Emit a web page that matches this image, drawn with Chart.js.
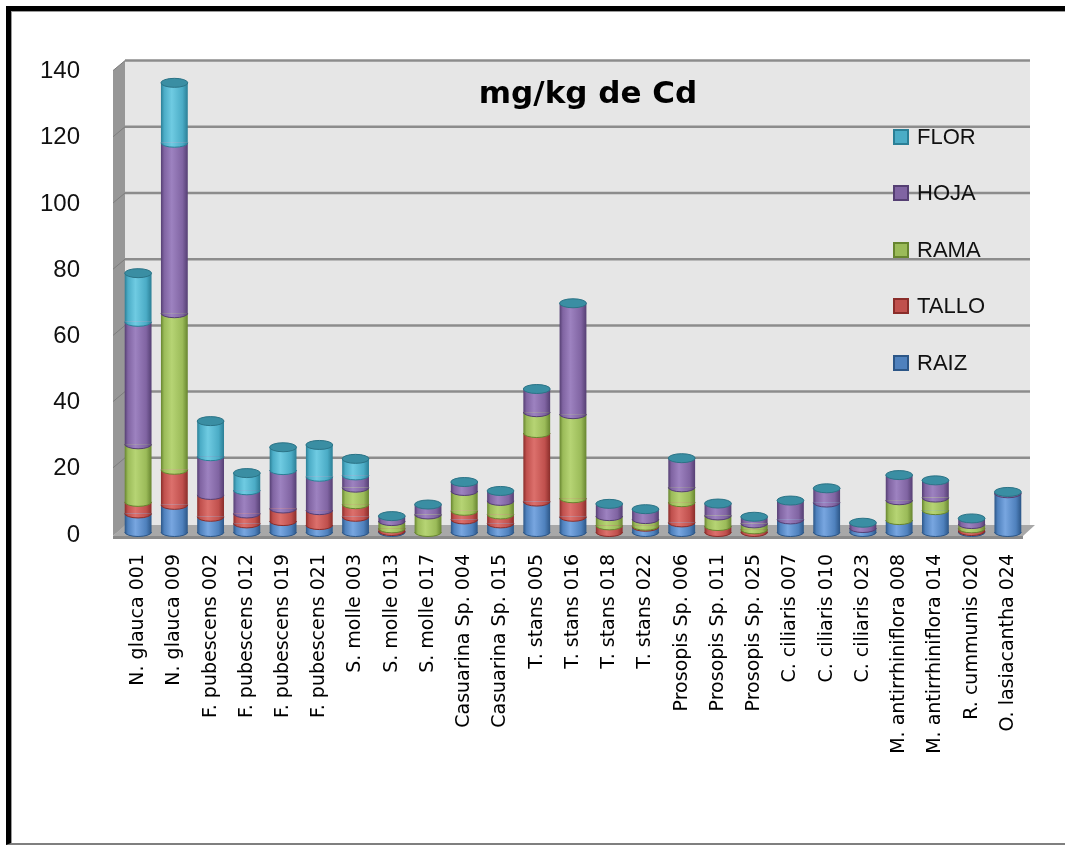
<!DOCTYPE html>
<html>
<head>
<meta charset="utf-8">
<script src="https://cdn.jsdelivr.net/npm/chart.js@4.4.1/dist/chart.umd.min.js"></script>
<style>
    html, body { margin: 0; padding: 0; background: #fff; }
    #wrap { position: relative; width: 1065px; height: 846px; overflow: hidden; }
    #frame { position: absolute; left: 6px; top: 6px; right: -10px; bottom: 1px;
        border-left: 5px solid #000; border-top: 5px solid #000; border-bottom: 2px solid #7f7f7f;
        box-shadow: inset 1px 1px 0 #9a9a9a; pointer-events: none; }
    canvas { position: absolute; left: 0; top: 0; }
</style>
</head>
<body>
<div id="wrap">
    <canvas id="cdChart" width="1065" height="846"></canvas>
    <div id="frame"></div>
</div>
<script>
const categories = [
    'N. glauca 001', 'N. glauca 009', 'F. pubescens 002', 'F. pubescens 012', 'F. pubescens 019',
    'F. pubescens 021', 'S. molle 003', 'S. molle 013', 'S. molle 017', 'Casuarina Sp. 004',
    'Casuarina Sp. 015', 'T. stans 005', 'T. stans 016', 'T. stans 018', 'T. stans 022',
    'Prosopis Sp. 006', 'Prosopis Sp. 011', 'Prosopis Sp. 025', 'C. ciliaris 007', 'C. ciliaris 010',
    'C. ciliaris 023', 'M. antirrhiniflora 008', 'M. antirrhiniflora 014', 'R. cummunis 020', 'O. lasiacantha 024'
];
const raiz  = [5.6, 8.2, 4.6, 2.6, 3.3, 2.1, 4.6, 0.3, 0, 3.8, 2.6, 9.2, 4.6, 0, 1.6, 2.9, 0, 0, 3.8, 8.9, 1.2, 3.6, 6.6, 0.3, 11.7];
const tallo = [3.5, 10.6, 6.6, 3.0, 3.8, 4.5, 3.8, 0.8, 0, 2.6, 2.7, 20.7, 5.6, 2.0, 0.3, 6.1, 1.8, 0.8, 0, 0, 0, 0, 0, 0.8, 0];
const rama  = [17.4, 47.3, 0, 0, 0, 0, 5.0, 2.2, 5.3, 6.0, 4.1, 6.3, 25.4, 2.8, 2.0, 4.5, 3.2, 1.8, 0, 0, 0, 6.0, 3.8, 1.3, 0];
const hoja  = [37.0, 51.5, 11.7, 7.0, 11.6, 10.1, 3.7, 1.5, 3.0, 2.7, 3.0, 7.0, 33.5, 3.7, 3.0, 8.8, 3.6, 2.0, 5.7, 4.3, 1.6, 7.6, 5.2, 1.7, 0.4];
const flor  = [14.7, 18.1, 10.6, 5.2, 6.9, 9.6, 5.0, 0, 0, 0, 0, 0, 0, 0, 0, 0, 0, 0, 0, 0, 0, 0, 0, 0, 0];
const seriesNames = ['RAIZ', 'TALLO', 'RAMA', 'HOJA', 'FLOR'];
const yTickValues = [0, 20, 40, 60, 80, 100, 120, 140];
const chartTitle = 'mg/kg de Cd';

// base / light / dark shades for the cylinder look
const palette = [
    { base: '#4F81BD', light: '#78a6e0', dark: '#2c5687' },
    { base: '#C0504D', light: '#dc706c', dark: '#8a2d2a' },
    { base: '#9BBB59', light: '#b6d474', dark: '#67852f' },
    { base: '#8064A2', light: '#9d82c0', dark: '#553f73' },
    { base: '#4BACC6', light: '#6fcbe2', dark: '#2b7f96' },
];
const BAR_PCT = 0.74;

function barWidth(chart) {
    const xs = chart.scales.x;
    return xs.width / categories.length * BAR_PCT;
}

function cylinderFill(c, pal) {
    const chart = c.chart;
    const xs = chart.scales.x;
    if (!xs || !chart.chartArea || c.dataIndex === undefined) return pal.base;
    const cx = xs.getPixelForValue(c.dataIndex);
    const w = barWidth(chart);
    const g = chart.ctx.createLinearGradient(cx - w / 2, 0, cx + w / 2, 0);
    g.addColorStop(0, pal.dark);
    g.addColorStop(0.12, pal.base);
    g.addColorStop(0.4, pal.light);
    g.addColorStop(0.8, pal.base);
    g.addColorStop(1, pal.dark);
    return g;
}

const wallPlugin = {
    id: 'wall3d',
    beforeDraw(chart) {
        const { ctx, chartArea: a, scales: { y } } = chart;
        const L = a.left, R = a.right, B = a.bottom;
        const wallTop = y.getPixelForValue(140) - 8;
        ctx.save();
        // back wall
        ctx.fillStyle = '#e6e6e6';
        ctx.fillRect(L + 5, wallTop, R + 4 - (L + 5), B - 6 - wallTop);
        // left side wall
        ctx.fillStyle = '#979797';
        ctx.beginPath();
        ctx.moveTo(L - 7, wallTop + 10);
        ctx.lineTo(L + 5, wallTop);
        ctx.lineTo(L + 5, B - 6);
        ctx.lineTo(L - 7, B + 4);
        ctx.closePath();
        ctx.fill();
        // grid lines on back wall
        yTickValues.forEach(v => {
            if (v === 0) return;
            const py = y.getPixelForValue(v) - 8;
            ctx.strokeStyle = '#8c8c8c';
            ctx.lineWidth = 2.5;
            ctx.beginPath();
            ctx.moveTo(L + 5, py);
            ctx.lineTo(R + 4, py);
            ctx.stroke();
            ctx.strokeStyle = '#7d7d7d';
            ctx.lineWidth = 1;
            ctx.beginPath();
            ctx.moveTo(L - 7, py + 10);
            ctx.lineTo(L + 5, py);
            ctx.stroke();
        });
        // floor
        ctx.fillStyle = '#a8a8a8';
        ctx.beginPath();
        ctx.moveTo(L - 7, B + 4);
        ctx.lineTo(L + 5, B - 7);
        ctx.lineTo(R + 9, B - 7);
        ctx.lineTo(R - 3, B + 4);
        ctx.closePath();
        ctx.fill();
        ctx.fillStyle = '#8a8a8a';
        ctx.fillRect(L - 7, B + 4, R - 3 - (L - 7), 3);
        ctx.restore();
    },
    afterDatasetsDraw(chart) {
        const ctx = chart.ctx;
        const ry = 4.5;
        ctx.save();
        // rounded fronts of each stacked segment
        for (let d = 0; d < chart.data.datasets.length; d++) {
            const meta = chart.getDatasetMeta(d);
            const vals = chart.data.datasets[d].data;
            meta.data.forEach((el, i) => {
                if (!(vals[i] > 0)) return;
                const p = el.getProps(['x', 'base', 'width'], true);
                ctx.beginPath();
                ctx.ellipse(p.x, p.base, p.width / 2, ry, 0, 0, Math.PI);
                ctx.closePath();
                ctx.fillStyle = el.options.backgroundColor;
                ctx.fill();
                ctx.strokeStyle = palette[d].dark;
                ctx.lineWidth = 1;
                ctx.beginPath();
                ctx.ellipse(p.x, p.base, p.width / 2, ry, 0, 0, Math.PI);
                ctx.stroke();
            });
        }
        // caps on top of each stack
        categories.forEach((_, i) => {
            let top = null;
            for (let d = chart.data.datasets.length - 1; d >= 0; d--) {
                if (chart.data.datasets[d].data[i] > 0) { top = chart.getDatasetMeta(d).data[i]; break; }
            }
            if (!top) return;
            const p = top.getProps(['x', 'y', 'width'], true);
            ctx.beginPath();
            ctx.ellipse(p.x, p.y, p.width / 2, ry, 0, 0, Math.PI * 2);
            ctx.fillStyle = '#3a8ea3';
            ctx.fill();
            ctx.strokeStyle = '#2b7386';
            ctx.lineWidth = 1;
            ctx.stroke();
        });
        ctx.restore();
    },
    afterDraw(chart) {
        const ctx = chart.ctx;
        ctx.save();
        // title
        ctx.fillStyle = '#000';
        ctx.font = "bold 31px 'DejaVu Sans'";
        ctx.textAlign = 'center';
        ctx.textBaseline = 'middle';
        ctx.fillText(chartTitle, 588, 95);
        // legend, top entry is the last series
        ctx.font = "22px 'Liberation Sans'";
        ctx.textAlign = 'left';
        const legendY = [363, 306, 250, 193, 137];
        seriesNames.forEach((name, d) => {
            const cy = legendY[d];
            ctx.fillStyle = palette[d].base;
            ctx.fillRect(893, cy - 8, 16, 16);
            ctx.strokeStyle = palette[d].dark;
            ctx.lineWidth = 2;
            ctx.strokeRect(894, cy - 7, 14, 14);
            ctx.fillStyle = '#111';
            ctx.fillText(name, 917, cy + 1);
        });
        ctx.restore();
    }
};

const datasets = [raiz, tallo, rama, hoja, flor].map((vals, d) => ({
    label: seriesNames[d],
    data: vals,
    backgroundColor: c => cylinderFill(c, palette[d]),
    borderWidth: 0,
    barPercentage: BAR_PCT,
    categoryPercentage: 1,
}));

new Chart(document.getElementById('cdChart').getContext('2d'), {
    type: 'bar',
    data: { labels: categories, datasets },
    options: {
        responsive: false,
        devicePixelRatio: 1,
        animation: false,
        layout: { padding: { top: 68.6, right: 39, left: 0, bottom: 0 } },
        plugins: {
            legend: { display: false },
            tooltip: { enabled: false },
            title: { display: false }
        },
        scales: {
            x: {
                stacked: true,
                grid: { display: false },
                border: { display: false },
                ticks: {
                    autoSkip: false,
                    minRotation: 90,
                    maxRotation: 90,
                    padding: 14,
                    color: '#000',
                    font: { family: "'DejaVu Sans'", size: 19 }
                },
                afterFit: s => { s.height = 314; }
            },
            y: {
                stacked: true,
                min: 0,
                max: 140,
                grid: { display: false },
                border: { display: false },
                afterBuildTicks: s => { s.ticks = yTickValues.map(v => ({ value: v })); },
                ticks: {
                    padding: 32,
                    labelOffset: 3,
                    color: '#111',
                    font: { family: "'Liberation Sans'", size: 24 }
                },
                afterFit: s => { s.width = 120; }
            }
        }
    },
    plugins: [wallPlugin]
});
</script>
</body>
</html>
